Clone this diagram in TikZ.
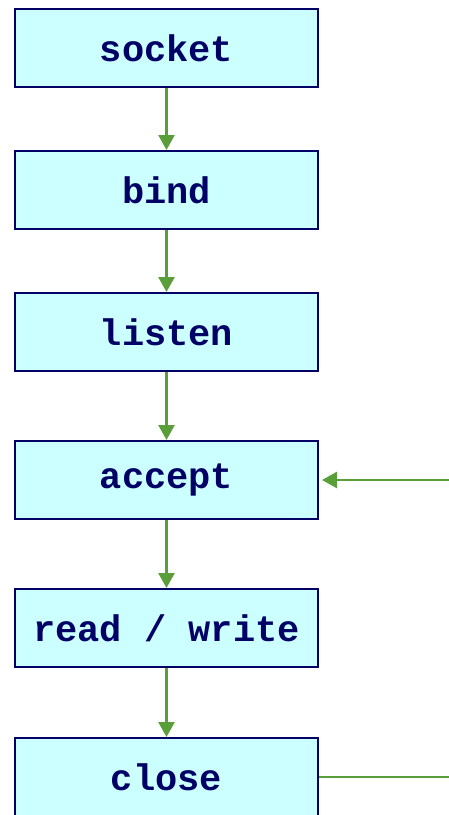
\documentclass[tikz,border=0pt]{standalone}
\usepackage{fontspec}
\setmonofont{Liberation Mono}
\usepackage{xcolor}
\usetikzlibrary{arrows.meta}

\definecolor{callfill}{HTML}{CCFFFF}
\definecolor{callnavy}{HTML}{000066}
\definecolor{flowgreen}{HTML}{5A9E3A}

\tikzset{
  call/.style={draw=callnavy, fill=callfill, line width=2pt, text=callnavy,
    minimum width=303pt, minimum height=78pt, inner sep=0pt,
    font=\ttfamily\bfseries\fontsize{37}{40}\selectfont},
  flow/.style={draw=flowgreen, line width=2.6pt,
    -{Triangle[width=16pt,length=15pt]}}
}

\begin{document}
\begin{tikzpicture}[x=1pt,y=-1pt]
\useasboundingbox (0,0) rectangle (449,815);
\clip (0,0) rectangle (449,815);
% server side calls, top to bottom
\node[call] (socket) at (166.5,48) {socket};
\node[call] (bind) at (166.5,190) {bind};
\node[call] (listen) at (166.5,332) {listen};
\node[call] (accept) at (166.5,480) {accept};
\node[call] (rw) at (166.5,628) {read / write};
\node[call] (close) at (166.5,777) {close};
% loose ends on the right
\coordinate (back) at (449,480);
\coordinate (out) at (449,777);
\draw[flow] (socket) -- (bind);
\draw[flow] (bind) -- (listen);
\draw[flow] (listen) -- (accept);
\draw[flow] (accept) -- (rw);
\draw[flow] (rw) -- (close);
\draw[flow, shorten >=3pt] (back) -- (accept);
\draw[flow, -] (close) -- (out);
\end{tikzpicture}
\end{document}
